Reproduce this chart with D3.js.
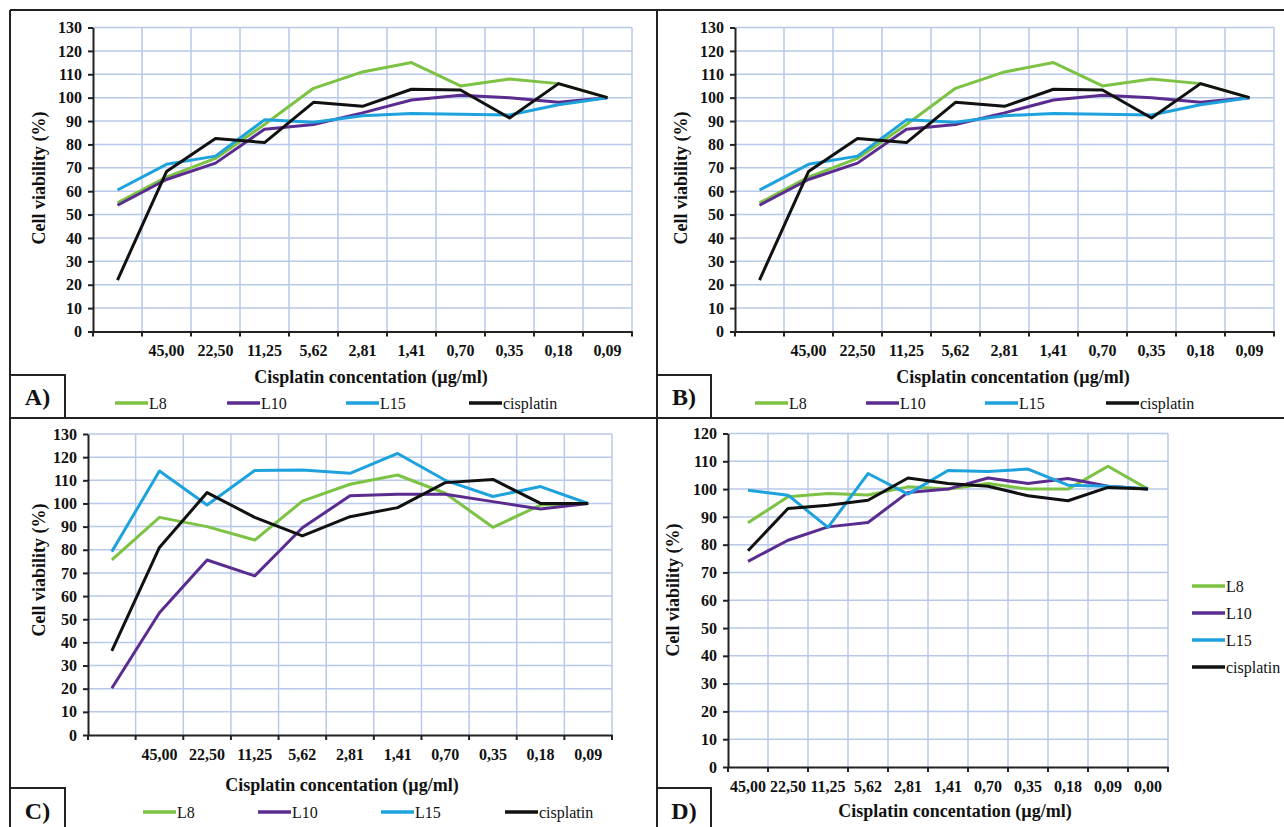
<!DOCTYPE html>
<html>
<head>
<meta charset="utf-8">
<script src="https://cdn.jsdelivr.net/npm/d3@7"></script>
<style>
body { margin:0; background:#fff; }
svg { display:block; font-family:"Liberation Serif","Times New Roman",serif; }
</style>
</head>
<body>
<svg id="svg" width="1284" height="827"></svg>
<script>
// categories (x tick labels)
var catsABC = ["", "45,00", "22,50", "11,25", "5,62", "2,81", "1,41", "0,70", "0,35", "0,18", "0,09"];
var catsD = ["45,00", "22,50", "11,25", "5,62", "2,81", "1,41", "0,70", "0,35", "0,18", "0,09", "0,00"];
var names = ["L8", "L10", "L15", "cisplatin"];

// panels A and B (same data)
var ab_L8  = [55, 66, 74, 88.5, 104, 111, 115, 105, 108, 106, 100];
var ab_L10 = [54, 65, 72, 86.5, 88.5, 93.5, 99, 101, 100, 98, 100];
var ab_L15 = [60.5, 71.5, 75, 90.5, 89.5, 92.3, 93.2, 92.9, 92.6, 97, 100];
var ab_cis = [22, 68.4, 82.5, 80.8, 98, 96.3, 103.6, 103.3, 91.3, 106, 100];

// panel C
var c_L8  = [75.6, 94, 90, 84.2, 101, 108.3, 112.3, 104.4, 89.7, 99.3, 100];
var c_L10 = [20.2, 52.8, 75.6, 68.7, 89.5, 103.3, 104, 104, 100.8, 97.6, 100];
var c_L15 = [79.2, 114, 99.3, 114.2, 114.4, 113, 121.6, 110, 103, 107.3, 100];
var c_cis = [36.3, 81, 104.7, 94, 86, 94.3, 98.2, 109, 110.4, 100, 100];

// panel D
var d_L8  = [87.9, 97.2, 98.4, 97.9, 100.8, 100, 102, 100, 100, 108.2, 100];
var d_L10 = [74, 81.6, 86.4, 88, 98.8, 100, 104, 102, 103.8, 101, 100];
var d_L15 = [99.6, 97.8, 86.2, 105.6, 98.2, 106.7, 106.3, 107.2, 101.4, 101, 100];
var d_cis = [77.8, 93, 94.2, 96, 104, 102, 101, 97.6, 95.8, 100.6, 100];

var colors = ["#7cc243", "#5b2c8f", "#1ea2dd", "#111111"];
var gridCol = "#b8c9e9";
var xTitle = "Cisplatin concentation (\u00b5g/ml)";
var yTitle = "Cell viability (%)";

var svg = d3.select("#svg");

var panels = [
  {tag: "A)", cats: catsABC, ymax: 130, series: [ab_L8, ab_L10, ab_L15, ab_cis],
   left: 93, right: 632, top: 27.5, bottom: 331.5,
   titleX: 371, titleY: 377, yTitleX: 39, yTitleY: 178,
   legend: {y: 403, xs: [115, 227, 346, 469]},
   box: [10, 375, 55, 43]},
  {tag: "B)", cats: catsABC, ymax: 130, series: [ab_L8, ab_L10, ab_L15, ab_cis],
   left: 735, right: 1274, top: 27.5, bottom: 331.5,
   titleX: 1013, titleY: 377, yTitleX: 681, yTitleY: 178,
   legend: {y: 403, xs: [755, 866, 985, 1106]},
   box: [657, 375, 54, 43]},
  {tag: "C)", cats: catsABC, ymax: 130, series: [c_L8, c_L10, c_L15, c_cis],
   left: 88, right: 612, top: 434, bottom: 735,
   titleX: 342, titleY: 785, yTitleX: 39, yTitleY: 570,
   legend: {y: 812, xs: [143, 258, 381, 505]},
   box: [10, 788, 55, 45]},
  {tag: "D)", cats: catsD, ymax: 120, series: [d_L8, d_L10, d_L15, d_cis],
   left: 728, right: 1168, top: 433.5, bottom: 767,
   titleX: 955, titleY: 811, yTitleX: 673, yTitleY: 590,
   legendV: {x: 1192, ys: [586, 613, 640, 667]},
   box: [657, 788, 54, 45]}
];

// outer frame
var frame = svg.append("g").attr("stroke", "#222").attr("stroke-width", 2);
frame.append("line").attr("x1", 10).attr("y1", 10).attr("x2", 1284).attr("y2", 10);
frame.append("line").attr("x1", 10).attr("y1", 10).attr("x2", 10).attr("y2", 827);
frame.append("line").attr("x1", 657).attr("y1", 10).attr("x2", 657).attr("y2", 827);
frame.append("line").attr("x1", 10).attr("y1", 418).attr("x2", 1284).attr("y2", 418);

function drawPanel(p) {
  var g = svg.append("g");
  var x = d3.scaleBand().domain(p.cats).range([p.left, p.right]);
  var y = d3.scaleLinear().domain([0, p.ymax]).range([p.bottom, p.top]);
  var bw = x.bandwidth();

  // grid
  g.selectAll(".hg").data(d3.range(10, p.ymax + 1, 10)).join("line")
    .attr("x1", p.left).attr("x2", p.right)
    .attr("y1", function(d) { return y(d); }).attr("y2", function(d) { return y(d); })
    .attr("stroke", gridCol).attr("stroke-width", 1.5);
  g.selectAll(".vg").data(p.cats).join("line")
    .attr("x1", function(d) { return x(d) + bw; }).attr("x2", function(d) { return x(d) + bw; })
    .attr("y1", p.top).attr("y2", p.bottom)
    .attr("stroke", gridCol).attr("stroke-width", 1.5);

  // y axis
  var ya = g.append("g").attr("transform", "translate(" + p.left + ",0)")
    .call(d3.axisLeft(y).tickValues(d3.range(0, p.ymax + 1, 10)).tickSize(5).tickPadding(6).tickSizeOuter(0));
  // x axis (labels centred in categories)
  var xa = g.append("g").attr("transform", "translate(0," + p.bottom + ")")
    .call(d3.axisBottom(x).tickSize(0).tickPadding(12).tickSizeOuter(0));
  [ya, xa].forEach(function(a) {
    a.select(".domain").attr("stroke", "#222").attr("stroke-width", 2);
    a.selectAll(".tick line").attr("stroke", "#222").attr("stroke-width", 2);
    a.selectAll("text").attr("font-family", "Liberation Serif, Times New Roman, serif")
      .attr("font-size", 16).attr("font-weight", "bold").attr("fill", "#111");
  });
  xa.selectAll("text").attr("dy", "0.35em").attr("y", 19);
  // category boundary ticks
  g.selectAll(".bt").data(d3.range(p.cats.length + 1)).join("line")
    .attr("x1", function(i) { return p.left + i * x.step(); })
    .attr("x2", function(i) { return p.left + i * x.step(); })
    .attr("y1", p.bottom).attr("y2", p.bottom + 5)
    .attr("stroke", "#222").attr("stroke-width", 2);

  // series
  var line = d3.line()
    .x(function(d, i) { return x(p.cats[i]) + bw / 2; })
    .y(function(d) { return y(d); });
  p.series.forEach(function(s, i) {
    g.append("path").datum(s).attr("d", line)
      .attr("fill", "none").attr("stroke", colors[i]).attr("stroke-width", 3)
      .attr("stroke-linejoin", "round");
  });

  // titles
  g.append("text").attr("x", p.titleX).attr("y", p.titleY).attr("dy", "0.35em")
    .attr("text-anchor", "middle").attr("font-size", 18).attr("font-weight", "bold")
    .attr("fill", "#111").text(xTitle);
  g.append("text").attr("transform", "translate(" + p.yTitleX + "," + p.yTitleY + ") rotate(-90)")
    .attr("dy", "0.35em").attr("text-anchor", "middle").attr("font-size", 18)
    .attr("font-weight", "bold").attr("fill", "#111").text(yTitle);

  // legend
  var items = names.map(function(n, i) {
    if (p.legend) return {n: n, c: colors[i], x: p.legend.xs[i], y: p.legend.y};
    return {n: n, c: colors[i], x: p.legendV.x, y: p.legendV.ys[i]};
  });
  var li = g.selectAll(".lg").data(items).join("g")
    .attr("transform", function(d) { return "translate(" + d.x + "," + d.y + ")"; });
  li.append("line").attr("x1", 0).attr("x2", 33).attr("y1", 0).attr("y2", 0)
    .attr("stroke", function(d) { return d.c; }).attr("stroke-width", 3.5);
  li.append("text").attr("x", 34).attr("dy", "0.35em").attr("font-size", 16)
    .attr("fill", "#111").text(function(d) { return d.n; });

  // panel tag box
  g.append("rect").attr("x", p.box[0]).attr("y", p.box[1]).attr("width", p.box[2]).attr("height", p.box[3])
    .attr("fill", "#fff").attr("stroke", "#222").attr("stroke-width", 2);
  var ty = p.box[1] + (p.box[3] > 43 ? 23 : 22);
  g.append("text").attr("x", p.box[0] + p.box[2] / 2).attr("y", ty).attr("dy", "0.35em")
    .attr("text-anchor", "middle").attr("font-size", 24).attr("font-weight", "bold")
    .attr("fill", "#111").text(p.tag);
}

panels.forEach(drawPanel);
</script>
</body>
</html>
